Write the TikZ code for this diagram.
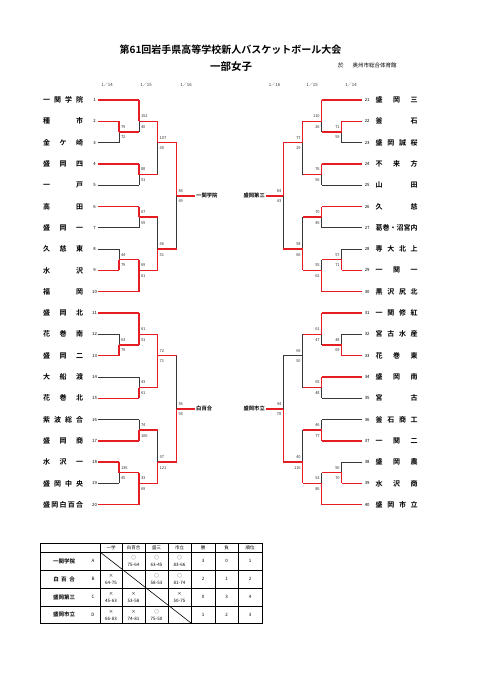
\documentclass[tikz,border=0pt]{standalone}
\usepackage{fontspec}
\setmainfont{Noto Sans CJK JP}[BoldFont={Noto Sans CJK JP Bold}]
\definecolor{wr}{RGB}{230,30,35}
\definecolor{lg}{RGB}{55,55,55}
\tikzset{
 win/.style={draw=wr, line width=1.4pt},
 lose/.style={draw=lg, line width=0.8pt},
 sc/.style={font=\fontsize{4}{4}\selectfont, inner sep=0pt, text=black!80},
 num/.style={font=\fontsize{4.3}{4.3}\selectfont, inner sep=0pt},
 tname/.style={font=\fontsize{7}{7}\bfseries\selectfont, inner sep=0pt, anchor=west},
 hdr/.style={font=\fontsize{4.3}{4.3}\selectfont, inner sep=0pt, text=black!80},
 lbl/.style={font=\fontsize{5.3}{5.3}\bfseries\selectfont, inner sep=1pt},
 scl/.style={anchor=west, xshift=1.8pt},
 scr/.style={anchor=east, xshift=-1.8pt},
 side/.style={scl},
 tb/.style={draw=black, line width=0.5pt},
 tt/.style={font=\fontsize{4.5}{4.5}\selectfont, inner sep=0pt},
 tn/.style={font=\fontsize{5.5}{5.5}\bfseries\selectfont, inner sep=0pt},
}
\newcommand\bm[9]{%
 \coordinate (#1u) at (#2,{100+10.65*(#3)});
 \coordinate (#1l) at (#2,{100+10.65*(#4)});
 \coordinate (#1o) at (#2,{100+10.65*(#5)});
 \draw[#6] (#1u) -- (#1o);
 \draw[#7] (#1o) -- (#1l);
 \node[sc,side] (#1su) at ([yshift=5pt]#1o) {#8};
 \node[sc,side] (#1sl) at ([yshift=-5.5pt]#1o) {#9};
}
\newcommand\tL[3]{%
 \node[num] (n#1) at (94.5,{100+10.65*(#2)}) {#1};
 \coordinate (t#1) at (98,{100+10.65*(#2)});
 \node[tname] (nm#1) at (43,{100+10.65*(#2)}) {\makebox[40pt][s]{#3}};
}
\newcommand\tR[3]{%
 \node[num] (n#1) at (367.2,{100+10.65*(#2)}) {#1};
 \coordinate (t#1) at (362,{100+10.65*(#2)});
 \node[tname] (nm#1) at (375.5,{100+10.65*(#2)}) {\makebox[42pt][s]{#3}};
}
\newcommand\cell[4]{%
 \node[tt] at (#1,{#2+5.5}) {#3};
 \node[tt] at (#1,{#2+13}) {#4};}
\begin{document}
\begin{tikzpicture}[x=1pt,y=-1pt]
\useasboundingbox (0,0) rectangle (481,680);
\fill[white] (0,0) rectangle (481,680);
% titles
\node[font=\fontsize{10}{10}\bfseries\selectfont, inner sep=0pt] (title) at (230.5,50) {第61回岩手県高等学校新人バスケットボール大会};
\node[font=\fontsize{10.5}{10.5}\bfseries\selectfont, inner sep=0pt] (sub) at (231,66.5) {一部女子};
\node[font=\fontsize{5.5}{5.5}\selectfont, inner sep=0pt, anchor=west] (venue) at (338,65.5) {於\hspace{9pt}奥州市総合体育館};
% round headers
\node[hdr] (h1) at (107,85) {1／14};
\node[hdr] (h2) at (146,85) {1／15};
\node[hdr] (h3) at (186,85) {1／16};
\node[hdr] (h4) at (274.5,85) {1／16};
\node[hdr] (h5) at (312,85) {1／15};
\node[hdr] (h6) at (351,85) {1／14};
% teams left
\tL{1}{0}{一\hfil 関\hfil 学\hfil 院}
\tL{2}{2}{種\hfil 市}
\tL{3}{4}{金\hfil ケ\hfil 崎}
\tL{4}{6}{盛\hfil 岡\hfil 四}
\tL{5}{8}{一\hfil 戸}
\tL{6}{10}{高\hfil 田}
\tL{7}{12}{盛\hfil 岡\hfil 一}
\tL{8}{14}{久\hfil 慈\hfil 東}
\tL{9}{16}{水\hfil 沢}
\tL{10}{18}{福\hfil 岡}
\tL{11}{20}{盛\hfil 岡\hfil 北}
\tL{12}{22}{花\hfil 巻\hfil 南}
\tL{13}{24}{盛\hfil 岡\hfil 二}
\tL{14}{26}{大\hfil 船\hfil 渡}
\tL{15}{28}{花\hfil 巻\hfil 北}
\tL{16}{30}{紫\hfil 波\hfil 総\hfil 合}
\tL{17}{32}{盛\hfil 岡\hfil 商}
\tL{18}{34}{水\hfil 沢\hfil 一}
\tL{19}{36}{盛\hfil 岡\hfil 中\hfil 央}
\tL{20}{38}{盛\hfil 岡\hfil 白\hfil 百\hfil 合}
% teams right
\tR{21}{0}{盛\hfil 岡\hfil 三}
\tR{22}{2}{釜\hfil 石}
\tR{23}{4}{盛\hfil 岡\hfil 誠\hfil 桜}
\tR{24}{6}{不\hfil 来\hfil 方}
\tR{25}{8}{山\hfil 田}
\tR{26}{10}{久\hfil 慈}
\tR{27}{12}{葛\hfil 巻\hfil ・\hfil 沼\hfil 宮\hfil 内}
\tR{28}{14}{専\hfil 大\hfil 北\hfil 上}
\tR{29}{16}{一\hfil 関\hfil 一}
\tR{30}{18}{黒\hfil 沢\hfil 尻\hfil 北}
\tR{31}{20}{一\hfil 関\hfil 修\hfil 紅}
\tR{32}{22}{宮\hfil 古\hfil 水\hfil 産}
\tR{33}{24}{花\hfil 巻\hfil 東}
\tR{34}{26}{盛\hfil 岡\hfil 南}
\tR{35}{28}{宮\hfil 古}
\tR{36}{30}{釜\hfil 石\hfil 商\hfil 工}
\tR{37}{32}{一\hfil 関\hfil 二}
\tR{38}{34}{盛\hfil 岡\hfil 農}
\tR{39}{36}{水\hfil 沢\hfil 商}
\tR{40}{38}{盛\hfil 岡\hfil 市\hfil 立}
% left bracket
\tikzset{side/.style={scl}}
\bm{a1}{119}{2}{4}{3}{win}{lose}{79}{72}
\bm{a2}{139}{0}{3}{2}{win}{lose}{152}{40}
\bm{a3}{139}{6}{8}{7}{win}{lose}{88}{51}
\bm{a4}{139}{10}{12}{11}{win}{lose}{67}{59}
\bm{a5}{119}{14}{16}{15}{lose}{win}{44}{79}
\bm{a6}{139}{15}{18}{16}{win}{win}{69}{61}
\bm{a7}{157.7}{2}{7}{4}{win}{lose}{107}{40}
\bm{a8}{157.7}{11}{16}{14}{lose}{win}{46}{51}
\bm{a9}{176.5}{4}{14}{9}{win}{lose}{84}{49}
\bm{b1}{119}{22}{24}{23}{lose}{win}{63}{79}
\bm{b2}{139}{20}{23}{22}{win}{win}{61}{51}
\bm{b3}{139}{26}{28}{27}{lose}{win}{43}{61}
\bm{b4}{157.7}{22}{27}{24}{win}{win}{72}{71}
\bm{b5}{139}{30}{32}{31}{lose}{win}{74}{106}
\bm{b6}{119}{34}{36}{35}{win}{lose}{136}{45}
\bm{b7}{139}{35}{38}{36}{win}{win}{33}{69}
\bm{b8}{157.7}{31}{36}{34}{lose}{win}{37}{121}
\bm{b9}{176.5}{24}{34}{29}{lose}{win}{56}{93}
% right bracket
\tikzset{side/.style={scr}}
\bm{c1}{341.7}{2}{4}{3}{win}{lose}{71}{59}
\bm{c2}{321.7}{0}{3}{2}{win}{lose}{110}{26}
\bm{c3}{321.7}{6}{8}{7}{win}{lose}{76}{56}
\bm{c4}{321.7}{10}{12}{11}{win}{lose}{70}{45}
\bm{c5}{341.7}{14}{16}{15}{lose}{win}{57}{71}
\bm{c6}{321.7}{15}{18}{16}{lose}{win}{55}{62}
\bm{c7}{302.7}{2}{7}{4}{win}{lose}{77}{29}
\bm{c8}{302.7}{11}{16}{14}{lose}{win}{58}{66}
\bm{c9}{283.3}{4}{14}{9}{win}{lose}{84}{43}
\bm{d1}{341.7}{22}{24}{23}{lose}{win}{48}{69}
\bm{d2}{321.7}{20}{23}{22}{win}{lose}{61}{47}
\bm{d3}{321.7}{26}{28}{27}{win}{lose}{65}{48}
\bm{d4}{302.7}{22}{27}{24}{lose}{lose}{69}{50}
\bm{d5}{321.7}{30}{32}{31}{lose}{win}{46}{77}
\bm{d6}{341.7}{34}{36}{35}{lose}{win}{56}{70}
\bm{d7}{321.7}{35}{38}{36}{lose}{win}{52}{86}
\bm{d8}{302.7}{31}{36}{34}{lose}{win}{40}{116}
\bm{d9}{283.3}{24}{34}{29}{lose}{win}{44}{78}
% team lines left
\draw[win] (t1) -- (a2u);
\draw[win] (t2) -- (a1u);
\draw[lose] (t3) -- (a1l);
\draw[win] (t4) -- (a3u);
\draw[lose] (t5) -- (a3l);
\draw[win] (t6) -- (a4u);
\draw[lose] (t7) -- (a4l);
\draw[lose] (t8) -- (a5u);
\draw[win] (t9) -- (a5l);
\draw[win] (t10) -- (a6l);
\draw[win] (t11) -- (b2u);
\draw[lose] (t12) -- (b1u);
\draw[win] (t13) -- (b1l);
\draw[lose] (t14) -- (b3u);
\draw[win] (t15) -- (b3l);
\draw[lose] (t16) -- (b5u);
\draw[win] (t17) -- (b5l);
\draw[win] (t18) -- (b6u);
\draw[lose] (t19) -- (b6l);
\draw[win] (t20) -- (b7l);
% team lines right
\draw[win] (t21) -- (c2u);
\draw[win] (t22) -- (c1u);
\draw[lose] (t23) -- (c1l);
\draw[win] (t24) -- (c3u);
\draw[lose] (t25) -- (c3l);
\draw[win] (t26) -- (c4u);
\draw[lose] (t27) -- (c4l);
\draw[lose] (t28) -- (c5u);
\draw[win] (t29) -- (c5l);
\draw[win] (t30) -- (c6l);
\draw[win] (t31) -- (d2u);
\draw[lose] (t32) -- (d1u);
\draw[win] (t33) -- (d1l);
\draw[win] (t34) -- (d3u);
\draw[lose] (t35) -- (d3l);
\draw[lose] (t36) -- (d5u);
\draw[win] (t37) -- (d5l);
\draw[lose] (t38) -- (d6u);
\draw[win] (t39) -- (d6l);
\draw[win] (t40) -- (d7l);
% match outputs
\draw[win] (a1o) -- (a2l);
\draw[win] (a5o) -- (a6u);
\draw[win] (a2o) -- (a7u);
\draw[win] (a3o) -- (a7l);
\draw[win] (a4o) -- (a8u);
\draw[win] (a6o) -- (a8l);
\draw[win] (a7o) -- (a9u);
\draw[win] (a8o) -- (a9l);
\draw[win] (b1o) -- (b2l);
\draw[win] (b6o) -- (b7u);
\draw[win] (b2o) -- (b4u);
\draw[win] (b3o) -- (b4l);
\draw[win] (b5o) -- (b8u);
\draw[win] (b7o) -- (b8l);
\draw[win] (b4o) -- (b9u);
\draw[win] (b8o) -- (b9l);
\draw[win] (c1o) -- (c2l);
\draw[win] (c5o) -- (c6u);
\draw[win] (c2o) -- (c7u);
\draw[win] (c3o) -- (c7l);
\draw[win] (c4o) -- (c8u);
\draw[win] (c6o) -- (c8l);
\draw[win] (c7o) -- (c9u);
\draw[win] (c8o) -- (c9l);
\draw[win] (d1o) -- (d2l);
\draw[win] (d6o) -- (d7u);
\draw[win] (d2o) -- (d4u);
\draw[win] (d3o) -- (d4l);
\draw[win] (d5o) -- (d8u);
\draw[win] (d7o) -- (d8l);
\draw[lose] (d4o) -- (d9u);
\draw[win] (d8o) -- (d9l);
% block winners
\node[lbl,anchor=west] (w1) at (195,{100+10.65*9}) {一関学院};
\node[lbl,anchor=west] (w2) at (195,{100+10.65*29}) {白百合};
\node[lbl,anchor=east] (w3) at (266,{100+10.65*9}) {盛岡第三};
\node[lbl,anchor=east] (w4) at (266,{100+10.65*29}) {盛岡市立};
\draw[win] (a9o) -- (w1.west);
\draw[win] (b9o) -- (w2.west);
\draw[win] (c9o) -- (w3.east);
\draw[win] (d9o) -- (w4.east);
% league table
\def\Xa{40}\def\Xb{100}\def\Xc{122}\def\Xd{145}\def\Xe{168}\def\Xf{191}\def\Xg{215}\def\Xh{238}\def\Xi{262}
\def\Ya{543}\def\Yb{552}\def\Yc{570}\def\Yd{588}\def\Ye{606}\def\Yf{623}
\draw[line width=0.9pt] (\Xa,\Ya) rectangle (\Xi,\Yf);
\foreach \yy in {\Yb,\Yc,\Yd,\Ye} \draw[tb] (\Xa,\yy) -- (\Xi,\yy);
\foreach \xx in {\Xb,\Xc,\Xd,\Xe,\Xg,\Xh} \draw[tb] (\xx,\Ya) -- (\xx,\Yf);
\draw[line width=0.9pt] (\Xf,\Ya) -- (\Xf,\Yf);
\draw[line width=0.6pt] (\Xb,\Yb) -- (\Xf,\Yf);
% header
\node[tt] (hA) at ({(\Xb+\Xc)/2},{(\Ya+\Yb)/2}) {一学};
\node[tt] (hB) at ({(\Xc+\Xd)/2},{(\Ya+\Yb)/2}) {白百合};
\node[tt] (hC) at ({(\Xd+\Xe)/2},{(\Ya+\Yb)/2}) {盛三};
\node[tt] (hD) at ({(\Xe+\Xf)/2},{(\Ya+\Yb)/2}) {市立};
\node[tt] (hW) at ({(\Xf+\Xg)/2},{(\Ya+\Yb)/2}) {勝};
\node[tt] (hL) at ({(\Xg+\Xh)/2},{(\Ya+\Yb)/2}) {負};
\node[tt] (hR) at ({(\Xh+\Xi)/2},{(\Ya+\Yb)/2}) {順位};
% row names
\node[tn] (rA) at (64,{(\Yb+\Yc)/2}) {一関学院};
\node[tn] (rB) at (64,{(\Yc+\Yd)/2}) {白\hspace{2.5pt}百\hspace{2.5pt}合};
\node[tn] (rC) at (64,{(\Yd+\Ye)/2}) {盛岡第三};
\node[tn] (rD) at (64,{(\Ye+\Yf)/2}) {盛岡市立};
\node[tt] (lA) at (93,{(\Yb+\Yc)/2}) {A};
\node[tt] (lB) at (93,{(\Yc+\Yd)/2}) {B};
\node[tt] (lC) at (93,{(\Yd+\Ye)/2}) {C};
\node[tt] (lD) at (93,{(\Ye+\Yf)/2}) {D};
% cells
\cell{133.5}{\Yb}{○}{75-64}
\cell{156.5}{\Yb}{○}{63-45}
\cell{179.5}{\Yb}{○}{83-66}
\cell{111}{\Yc}{×}{64-75}
\cell{156.5}{\Yc}{○}{58-53}
\cell{179.5}{\Yc}{○}{81-74}
\cell{111}{\Yd}{×}{45-63}
\cell{133.5}{\Yd}{×}{53-58}
\cell{179.5}{\Yd}{×}{50-75}
\cell{111}{\Ye}{×}{66-83}
\cell{133.5}{\Ye}{×}{74-81}
\cell{156.5}{\Ye}{○}{75-50}
% W L rank
\node[tt] at (203,{(\Yb+\Yc)/2}) {3};
\node[tt] at (226.5,{(\Yb+\Yc)/2}) {0};
\node[tt] at (250,{(\Yb+\Yc)/2}) {1};
\node[tt] at (203,{(\Yc+\Yd)/2}) {2};
\node[tt] at (226.5,{(\Yc+\Yd)/2}) {1};
\node[tt] at (250,{(\Yc+\Yd)/2}) {2};
\node[tt] at (203,{(\Yd+\Ye)/2}) {0};
\node[tt] at (226.5,{(\Yd+\Ye)/2}) {3};
\node[tt] at (250,{(\Yd+\Ye)/2}) {4};
\node[tt] at (203,{(\Ye+\Yf)/2}) {1};
\node[tt] at (226.5,{(\Ye+\Yf)/2}) {2};
\node[tt] at (250,{(\Ye+\Yf)/2}) {3};
\end{tikzpicture}
\end{document}
